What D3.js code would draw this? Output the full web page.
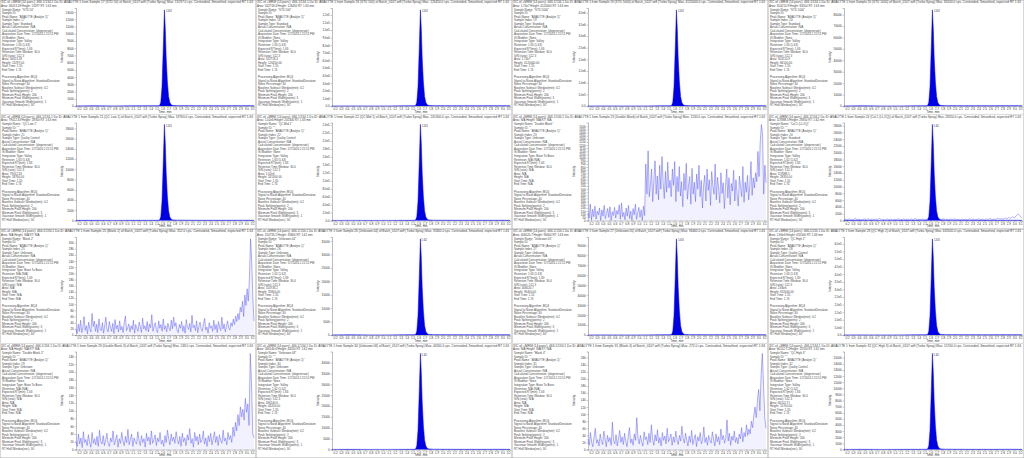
<!DOCTYPE html>
<html>
<head>
<meta charset="utf-8">
<script src="https://cdn.jsdelivr.net/npm/d3@7"></script>
<style>
html, body { margin: 0; padding: 0; background: #fff; }
svg text { font-family: "Liberation Sans", "DejaVu Sans", sans-serif; }
</style>
</head>
<body>
<div id="chart"></div>
<script>

// one entry per panel, row by row (4 x 4)
var sampleNames = ["STD 50", "STD 500", "STD 5000", "STD 1000",
	"QC Low 1", "QC Mid 1", "Double Blank", "Cal 1 (LLOQ)",
	"Blank 2", "Unknown 04", "Unknown 05", "QC High 2",
	"Double Blank 3", "Unknown 08", "Blank 4", "QC High 3"];
var sampleIndex = [17, 18, 19, 20, 21, 22, 23, 24, 25, 26, 27, 28, 29, 30, 31, 32];
var sampleTypes = ["Standard", "Standard", "Standard", "Standard",
	"Quality Control", "Quality Control", "Unknown", "Standard",
	"Unknown", "Unknown", "Unknown", "Quality Control",
	"Unknown", "Unknown", "Unknown", "Quality Control"];
var panelKind = ["peak", "peak", "peak", "peak",
	"peak", "peak", "noise", "peak",
	"noise", "peak", "peak", "peak",
	"noise", "peak", "noise", "peak"];
var peakRT = [1.63, 1.63, 1.63, 1.63, 1.63, 1.63, null, 1.62, null, 1.62, 1.63, 1.63, null, 1.62, null, 1.62];
var peakArea = ["56013.18", "532718.4", "1.74e7", "354210.9", "79012.33", "1.02e6", "N/A", "119388.5",
	"N/A", "150733.2", "406020.7", "2.66e6", "N/A", "186140.6", "N/A", "66102.71"];
var yStep = [1000, 10000, 500000, 10000, 2000, 20000, 50, 2000, 20, 5000, 10000, 50000, 20, 5000, 20, 1000];
var yTop = [13297, 126450, 4120000, 84100, 18760, 241300, 1530, 28350, 312, 35800, 96400, 632000, 248, 44200, 272, 15700];

// x axis (min)
var timeStart = 0.15, timeEnd = 3.13;
var xTickValues = [0.2, 0.3, 0.4, 0.5, 0.6, 0.7, 0.8, 0.9, 1.0, 1.1, 1.2, 1.3, 1.4, 1.5, 1.6,
	1.7, 1.8, 1.9, 2.0, 2.1, 2.2, 2.3, 2.4, 2.5, 2.6, 2.7, 2.8, 2.9, 3.0, 3.1];

// peak chromatograms, sampled at peakTimes
var peakTimes = [0.15, 0.45, 0.80, 1.10, 1.40, 1.52, 1.55, 1.57, 1.59, 1.61, 1.63, 1.645,
	1.66, 1.68, 1.70, 1.72, 1.74, 1.77, 1.85, 2.20, 2.60, 2.90, 3.13];
var peakR1C1 = [15, 20, 12, 18, 25, 30, 70, 530, 2660, 7710, 13297, 10640, 6650, 3320, 1330, 530, 200, 80, 40, 30, 25, 40, 35];
var peakR1C2 = [140, 160, 120, 150, 210, 250, 630, 5060, 25300, 73300, 126450, 101200, 63200, 31600, 12600, 5060, 1900, 760, 380, 260, 240, 380, 300];
var peakR1C3 = [4000, 5000, 3000, 4000, 6000, 8000, 20600, 164800, 824000, 2389600, 4120000, 3296000, 2060000, 1030000, 412000, 164800, 61800, 24700, 12400, 8000, 7000, 11000, 9000];
var peakR1C4 = [90, 110, 80, 100, 140, 170, 420, 3360, 16800, 48800, 84100, 67300, 42000, 21000, 8400, 3360, 1260, 500, 250, 170, 160, 250, 200];
var peakR2C1 = [25, 30, 20, 28, 35, 40, 94, 750, 3750, 10880, 18760, 15010, 9380, 4690, 1880, 750, 280, 110, 60, 40, 35, 50, 45];
var peakR2C2 = [260, 300, 220, 280, 350, 480, 1210, 9650, 48260, 139950, 241300, 193040, 120650, 60330, 24130, 9650, 3620, 1450, 720, 480, 400, 520, 460];
var peakR2C4 = [40, 60, 30, 50, 70, 90, 140, 1130, 5670, 16440, 28350, 22680, 14180, 7090, 2840, 1130, 430, 170, 90, 60, 50, 70, 60];
var peakR3C2 = [40, 50, 30, 45, 60, 70, 180, 1430, 7160, 20760, 35800, 28640, 17900, 8950, 3580, 1430, 540, 210, 110, 60, 50, 70, 60];
var peakR3C3 = [100, 120, 90, 110, 150, 190, 480, 3860, 19280, 55910, 96400, 77120, 48200, 24100, 9640, 3860, 1450, 580, 290, 190, 170, 240, 210];
var peakR3C4 = [700, 800, 600, 750, 900, 1260, 3160, 25280, 126400, 366560, 632000, 505600, 316000, 158000, 63200, 25280, 9480, 3790, 1900, 1200, 1000, 1400, 1200];
var peakR4C2 = [50, 60, 40, 55, 70, 90, 220, 1770, 8840, 25640, 44200, 35360, 22100, 11050, 4420, 1770, 660, 270, 130, 80, 70, 90, 80];
var peakR4C4 = [20, 25, 15, 22, 30, 35, 80, 630, 3140, 9110, 15700, 12560, 7850, 3930, 1570, 630, 240, 90, 50, 30, 25, 35, 30];

// noisy traces, evenly spaced scans from timeStart to timeEnd
var noiseR2C3 = [120, 40, 260, 10, 180, 60, 230, 20, 150, 90, 200, 0, 170, 70, 240, 30, 110, 190, 50, 220, 0, 140, 80, 210, 40, 160, 100, 250, 20, 280,
	60, 130, 10, 200, 70, 240, 30, 150, 0, 190, 90, 260, 20, 120, 210, 50, 170, 0, 230, 80,
	900, 420, 1110, 380, 560, 820, 300, 640, 950, 420, 710, 330, 880, 500, 1020, 610, 350, 780, 450, 930, 520, 640, 380, 820, 560, 940, 300, 700, 460,
	860, 390, 620, 220, 750, 480, 910, 340, 560, 700, 260, 830, 420, 610, 300, 740, 500, 880, 380, 640, 200, 560, 720, 310, 820, 480, 650, 240, 780,
	560, 420, 900, 330, 690, 510, 280, 760, 430, 600, 190, 540, 820, 360, 680, 250, 590, 470, 800, 310, 650, 420, 230, 710, 540, 380, 860, 290, 610,
	450, 720, 330, 560, 940, 400, 680, 520, 760, 620, 1100, 700, 1250, 1530, 1380, 420, 880, 600];
var noiseR3C1 = [18, 5, 35, 12, 48, 8, 25, 60, 15, 30, 4, 42, 20, 10, 70, 28, 45, 12, 35, 8, 52, 22, 14, 40, 6, 30, 58, 18, 10, 44, 26, 12, 38, 5, 50,
	20, 32, 10, 46, 16, 28, 8, 40, 62, 14, 24, 36, 10, 30, 18, 48, 6, 34, 22, 12, 42, 26, 8, 55, 20, 30, 14, 44, 10, 36, 24, 66, 12, 28, 40, 16, 8,
	46, 22, 34, 12, 52, 18, 30, 10, 38, 24, 14, 48, 20, 58, 28, 40, 16, 8, 34, 22, 44, 12, 30, 6, 50, 26, 18, 38, 10, 64, 24, 32, 14, 46, 8, 28, 42,
	20, 12, 36, 54, 16, 26, 6, 40, 22, 30, 12, 48, 18, 34, 8, 44, 26, 14, 58, 20, 36, 10, 30, 46, 22, 16, 40, 28, 52, 34, 62, 44, 70, 50, 90, 75,
	110, 60, 130, 96, 150, 110, 180, 312, 240, 120, 45];
var noiseR4C1 = [22, 8, 40, 14, 30, 5, 46, 18, 26, 10, 38, 20, 6, 44, 16, 28, 12, 34, 8, 50, 22, 14, 36, 10, 26, 42, 16, 8, 30, 20, 48, 12, 24, 38,
	6, 28, 16, 44, 22, 10, 34, 18, 52, 12, 26, 40, 8, 30, 20, 14, 46, 24, 10, 36, 18, 28, 6, 42, 22, 32, 12, 48, 16, 26, 38, 10, 30, 20, 44, 14,
	24, 8, 36, 18, 50, 28, 12, 40, 22, 32, 16, 46, 26, 14, 34, 8, 42, 20, 30, 10, 38, 24, 54, 16, 28, 6, 44, 22, 34, 12, 40, 18, 26, 48, 14, 30,
	8, 36, 20, 42, 12, 28, 46, 18, 34, 10, 38, 24, 16, 50, 22, 30, 12, 44, 26, 36, 18, 58, 34, 70, 48, 90, 62, 110, 84, 104, 76, 132, 96, 118,
	62, 248, 170, 40, 30];
var noiseR4C3 = [30, 12, 48, 20, 8, 36, 60, 18, 28, 10, 44, 24, 14, 52, 30, 8, 40, 22, 34, 12, 78, 26, 16, 42, 10, 30, 54, 20, 36, 14, 46, 24, 8,
	38, 62, 18, 30, 12, 44, 26, 90, 34, 16, 40, 22, 10, 50, 28, 36, 14, 46, 20, 70, 30, 12, 42, 24, 56, 18, 34, 10, 48, 26, 38, 16, 60, 22, 30,
	44, 12, 36, 20, 52, 28, 14, 40, 24, 66, 32, 18, 46, 26, 10, 38, 20, 54, 14, 30, 42, 8, 36, 24, 48, 16, 28, 64, 20, 34, 12, 40, 26, 18, 50,
	30, 10, 44, 22, 36, 14, 58, 28, 40, 18, 32, 84, 24, 46, 12, 38, 26, 52, 20, 34, 16, 44, 30, 62, 22, 48, 36, 70, 40, 58, 44, 80, 62, 96, 120,
	90, 140, 170, 110, 210, 272, 180, 90, 60];
var baselineR2C4 = [150, 380, 220, 520, 180, 300, 610, 240, 420, 160, 350, 480, 200, 560, 260, 390, 170, 450, 300, 620, 210, 340, 180, 500, 280,
	410, 150, 370, 240, 530, 190, 320, 460, 220, 380, 160, 480, 260, 600, 200, 350, 280, 440, 180, 330, 520, 240, 400, 170, 360, 290, 470, 210,
	580, 260, 380, 190, 420, 300, 510, 230, 350, 160, 440, 270, 390, 200, 560, 310, 420, 180, 340, 490, 250, 380, 210, 450, 290, 620, 240, 400,
	330, 700, 420, 520, 380, 760, 480, 900, 620, 1100, 780, 1500, 1900, 1200, 800];

var panelTraces = [peakR1C1, peakR1C2, peakR1C3, peakR1C4,
	peakR2C1, peakR2C2, noiseR2C3, peakR2C4,
	noiseR3C1, peakR3C2, peakR3C3, peakR3C4,
	noiseR4C1, peakR4C2, noiseR4C3, peakR4C4];

var W = 1024, H = 458;
var cols = 4, rows = 4;
var pw = W / cols, ph = H / rows;
var plot = {left: 76, right: 254, top: 8, bottom: 106};

var svg = d3.select("#chart").append("svg")
	.attr("width", W)
	.attr("height", H);

svg.append("rect").attr("width", W).attr("height", H).attr("fill", "#fff");

var xScale = d3.scaleLinear()
	.domain([timeStart, timeEnd])
	.range([plot.left, plot.right]);

function fmtY(top) {
	if (top >= 100000) {
		return function(v) { return v === 0 ? "0.0" : d3.format(".1e")(v).replace("+", ""); };
	}
	return d3.format("d");
}

function infoLines(i) {
	var rt = peakRT[i] === null ? "N/A" : peakRT[i].toFixed(2);
	return [
		"Sample Name: \"" + sampleNames[i] + "\"",
		"Sample ID: \"\"",
		"Peak Name: \"ANALYTE (Analyte 1)\"",
		"Sample Index: " + sampleIndex[i],
		"Sample Type: " + sampleTypes[i],
		"Actual Concentration: N/A",
		"Calculated Concentration: (degenerate)",
		"Acquisition Date Time: 1/7/2024 2:22:51 PM",
		"IS Modifier: None",
		"Integration Type: " + (panelKind[i] === "peak" ? "Valley" : "Base To Base"),
		"Retention: " + rt + " (" + rt + ")",
		"Expected RT(min): 1.63",
		"Retention Time Window: 30.0",
		"S/N (ratio): " + (panelKind[i] === "peak" ? "512.3" : "N/A"),
		"Area: " + peakArea[i],
		"Height: " + (panelKind[i] === "peak" ? yTop[i].toFixed(2) : "N/A"),
		"Start Time: " + (panelKind[i] === "peak" ? "1.55" : "N/A"),
		"End Time: " + (panelKind[i] === "peak" ? "1.74" : "N/A")
	];
}

var algoLines = [
	"Processing Algorithm: MQ4",
	"Signal to Noise Algorithm: StandardDeviation",
	"Noise Percentage: 40",
	"Baseline Subtract Window(min): 0.2",
	"Peak Splitting(points): 2",
	"Minimum Peak Height: 200",
	"Minimum Peak Width(points): 3",
	"Gaussian Smooth Width(points): 1",
	"RT Half Window(sec): 30"
];

d3.range(rows * cols).forEach(function(i) {
	var r = Math.floor(i / cols), c = i % cols;
	var g = svg.append("g").attr("transform", "translate(" + (c * pw) + "," + (r * ph) + ")");

	g.append("clipPath").attr("id", "clip" + i)
		.append("rect").attr("width", pw).attr("height", ph);
	var gc = g.append("g").attr("clip-path", "url(#clip" + i + ")");

	gc.append("rect")
		.attr("x", 0.25).attr("y", 0.25)
		.attr("width", pw - 0.5).attr("height", ph - 0.5)
		.attr("fill", "none").attr("stroke", "#b9b9b9").attr("stroke-width", 0.6);

	// header
	var rtText = peakRT[i] === null ? "N/A" : peakRT[i].toFixed(2) + " min";
	gc.append("text").attr("x", 1).attr("y", 3.2).attr("font-size", 2.8).attr("fill", "#444")
		.attr("textLength", pw - 4).attr("lengthAdjust", "spacingAndGlyphs")
		.text("XIC of +MRM (14 pairs): 466.1/134.1 Da ID: ANALYTE 1 from Sample " + sampleIndex[i] + " (" + sampleNames[i] +
			") of Batch_0107.wiff (Turbo Spray)  Max. " + d3.format(".1f")(yTop[i]) + " cps.  Centroided, Smoothed, expected RT 1.63");
	gc.append("text").attr("x", 1).attr("y", 6.6).attr("font-size", 2.9).attr("fill", "#444")
		.text("Area: " + peakArea[i] + " Height: " + (panelKind[i] === "peak" ? yTop[i] : "N/A") + " RT: " + rtText);

	// info block
	gc.selectAll(".info").data(infoLines(i)).enter().append("text")
		.attr("x", 2).attr("y", function(d, k) { return 10.5 + k * 3.55; })
		.attr("font-size", 2.9).attr("fill", "#4a4a4a")
		.text(function(d) { return d; });
	gc.selectAll(".algo").data(algoLines).enter().append("text")
		.attr("x", 2).attr("y", function(d, k) { return 78 + k * 3.55; })
		.attr("font-size", 2.9).attr("fill", "#4a4a4a")
		.text(function(d) { return d; });

	var yScale = d3.scaleLinear()
		.domain([0, yTop[i] * 1.02])
		.range([plot.bottom, plot.top]);

	var yTicks = d3.range(0, yTop[i] + 1e-9, yStep[i]);
	var yAxis = d3.axisLeft(yScale).tickValues(yTicks).tickSize(1.4).tickPadding(1).tickFormat(fmtY(yTop[i]));
	var ya = gc.append("g").attr("transform", "translate(" + plot.left + ",0)").call(yAxis);
	var xAxis = d3.axisBottom(xScale).tickValues(xTickValues).tickSize(1.4).tickPadding(0.6).tickFormat(d3.format(".1f"));
	var xa = gc.append("g").attr("transform", "translate(0," + plot.bottom + ")").call(xAxis);
	[ya, xa].forEach(function(a) {
		a.select(".domain").attr("stroke", "#555").attr("stroke-width", 0.4);
		a.selectAll(".tick line").attr("stroke", "#555").attr("stroke-width", 0.35);
		a.selectAll(".tick text").attr("font-size", 2.9).attr("fill", "#333").attr("font-family", "Liberation Sans, sans-serif");
	});

	gc.append("text").attr("x", xScale(1.64)).attr("y", 112.6).attr("text-anchor", "middle")
		.attr("font-size", 3.0).attr("fill", "#333").text("Time, min");
	gc.append("text")
		.attr("transform", "translate(63," + 57 + ") rotate(-90)")
		.attr("text-anchor", "middle").attr("font-size", 3.0).attr("fill", "#333").text("Intensity");

	var trace = panelTraces[i];
	if (panelKind[i] === "peak") {
		var pts = peakTimes.map(function(t, k) { return [t, trace[k]]; });
		if (i === 7) {
			var bt = d3.scaleLinear().domain([0, baselineR2C4.length - 1]).range([timeStart, timeEnd]);
			gc.append("path")
				.attr("d", d3.line().x(function(d, k) { return xScale(bt(k)); }).y(function(d) { return yScale(d); })(baselineR2C4))
				.attr("fill", "none").attr("stroke", "#5a5aff").attr("stroke-width", 0.45);
		}
		gc.append("path")
			.attr("d", d3.area().x(function(d) { return xScale(d[0]); }).y0(plot.bottom).y1(function(d) { return yScale(d[1]); })(pts))
			.attr("fill", "#0000e6");
		gc.append("path")
			.attr("d", d3.line().x(function(d) { return xScale(d[0]); }).y(function(d) { return yScale(d[1]); })(pts))
			.attr("fill", "none").attr("stroke", "#0000ff").attr("stroke-width", 0.5);
		gc.append("text")
			.attr("x", xScale(peakRT[i]) + 1.5).attr("y", yScale(yTop[i]) + 2.2)
			.attr("font-size", 2.9).attr("fill", "#333").text(peakRT[i].toFixed(2));
	} else {
		var st = d3.scaleLinear().domain([0, trace.length - 1]).range([timeStart, timeEnd]);
		gc.append("path")
			.attr("d", d3.area().x(function(d, k) { return xScale(st(k)); }).y0(plot.bottom).y1(function(d) { return yScale(d); })(trace))
			.attr("fill", "#d8d8ff").attr("opacity", 0.35);
		gc.append("path")
			.attr("d", d3.line().x(function(d, k) { return xScale(st(k)); }).y(function(d) { return yScale(d); })(trace))
			.attr("fill", "none").attr("stroke", "#5c5cff").attr("stroke-width", 0.5);
	}
});

</script>
</body>
</html>
